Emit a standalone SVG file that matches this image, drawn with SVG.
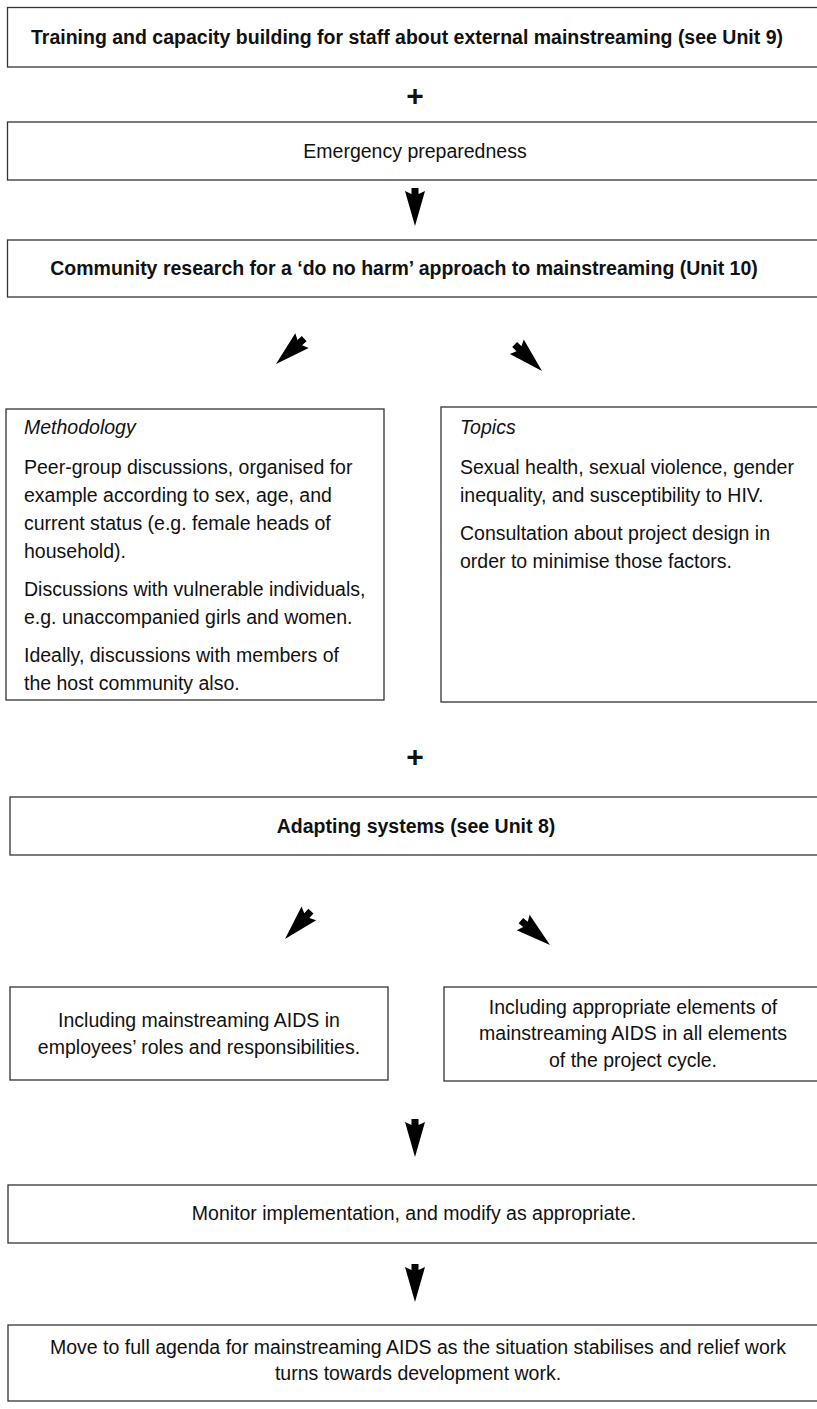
<svg xmlns="http://www.w3.org/2000/svg" width="817" height="1409" viewBox="0 0 817 1409">
<style>
.box{fill:#fff;stroke:#333;stroke-width:1.3}
.t{font-family:"Liberation Sans",Arial,sans-serif;font-size:19.5px;fill:#111}
.b{font-family:"Liberation Sans",Arial,sans-serif;font-size:19.5px;font-weight:bold;fill:#111}
.i{font-style:italic}
.c{text-anchor:middle}
.plus{font-family:"Liberation Sans",Arial,sans-serif;font-size:30px;font-weight:bold;fill:#111;text-anchor:middle}
</style>
<defs>
<path id="ah" d="M0,0 L-10,-35 L-3.5,-32 L-3.5,-38 L3.5,-38 L3.5,-32 L10,-35 Z" fill="#000"/>
</defs>
<rect width="817" height="1409" fill="#fff"/>
<g id="n1"><rect class="box" x="7.5" y="7.5" width="820" height="59.5"/><text class="b c" x="407" y="44">Training and capacity building for staff about external mainstreaming (see Unit 9)</text></g>
<g id="plus1"><text class="plus" x="415" y="106">+</text></g>
<g id="n2"><rect class="box" x="7.5" y="122" width="820" height="58"/><text class="t c" x="415" y="158">Emergency preparedness</text></g>
<g id="n3"><rect class="box" x="7.5" y="240" width="820" height="57"/><text class="b c" x="404" y="275">Community research for a ‘do no harm’ approach to mainstreaming (Unit 10)</text></g>
<g id="n4"><rect class="box" x="6" y="409" width="378" height="291"/>
<text class="t i" x="24" y="434">Methodology</text>
<text class="t" x="24" y="474">Peer-group discussions, organised for</text>
<text class="t" x="24" y="502">example according to sex, age, and</text>
<text class="t" x="24" y="530">current status (e.g. female heads of</text>
<text class="t" x="24" y="558">household).</text>
<text class="t" x="24" y="596">Discussions with vulnerable individuals,</text>
<text class="t" x="24" y="624">e.g. unaccompanied girls and women.</text>
<text class="t" x="24" y="662">Ideally, discussions with members of</text>
<text class="t" x="24" y="690">the host community also.</text>
</g>
<g id="n5"><rect class="box" x="441" y="407" width="390" height="295"/>
<text class="t i" x="460" y="434">Topics</text>
<text class="t" x="460" y="474">Sexual health, sexual violence, gender</text>
<text class="t" x="460" y="502">inequality, and susceptibility to HIV.</text>
<text class="t" x="460" y="540">Consultation about project design in</text>
<text class="t" x="460" y="568">order to minimise those factors.</text>
</g>
<g id="plus2"><text class="plus" x="415" y="767">+</text></g>
<g id="n6"><rect class="box" x="10" y="797" width="820" height="58"/><text class="b c" x="416" y="833">Adapting systems (see Unit 8)</text></g>
<g id="n7"><rect class="box" x="10" y="987" width="378" height="93"/>
<text class="t c" x="199" y="1027">Including mainstreaming AIDS in</text>
<text class="t c" x="199" y="1054">employees’ roles and responsibilities.</text>
</g>
<g id="n8"><rect class="box" x="444" y="987" width="390" height="94"/>
<text class="t c" x="633" y="1014">Including appropriate elements of</text>
<text class="t c" x="633" y="1040">mainstreaming AIDS in all elements</text>
<text class="t c" x="633" y="1067">of the project cycle.</text>
</g>
<g id="n9"><rect class="box" x="8" y="1185" width="822" height="58"/><text class="t c" x="414" y="1220">Monitor implementation, and modify as appropriate.</text></g>
<g id="n10"><rect class="box" x="8" y="1325" width="822" height="76"/>
<text class="t c" x="418" y="1354">Move to full agenda for mainstreaming AIDS as the situation stabilises and relief work</text>
<text class="t c" x="418" y="1380">turns towards development work.</text>
</g>
<g id="connectors">
<use href="#ah" transform="translate(415,226)"/>
<use href="#ah" transform="translate(276,364) rotate(48)"/>
<use href="#ah" transform="translate(542,371) rotate(-46)"/>
<use href="#ah" transform="translate(285,939) rotate(43)"/>
<use href="#ah" transform="translate(550,945) rotate(-50)"/>
<use href="#ah" transform="translate(415,1157)"/>
<use href="#ah" transform="translate(415,1302)"/>
</g>
</svg>
